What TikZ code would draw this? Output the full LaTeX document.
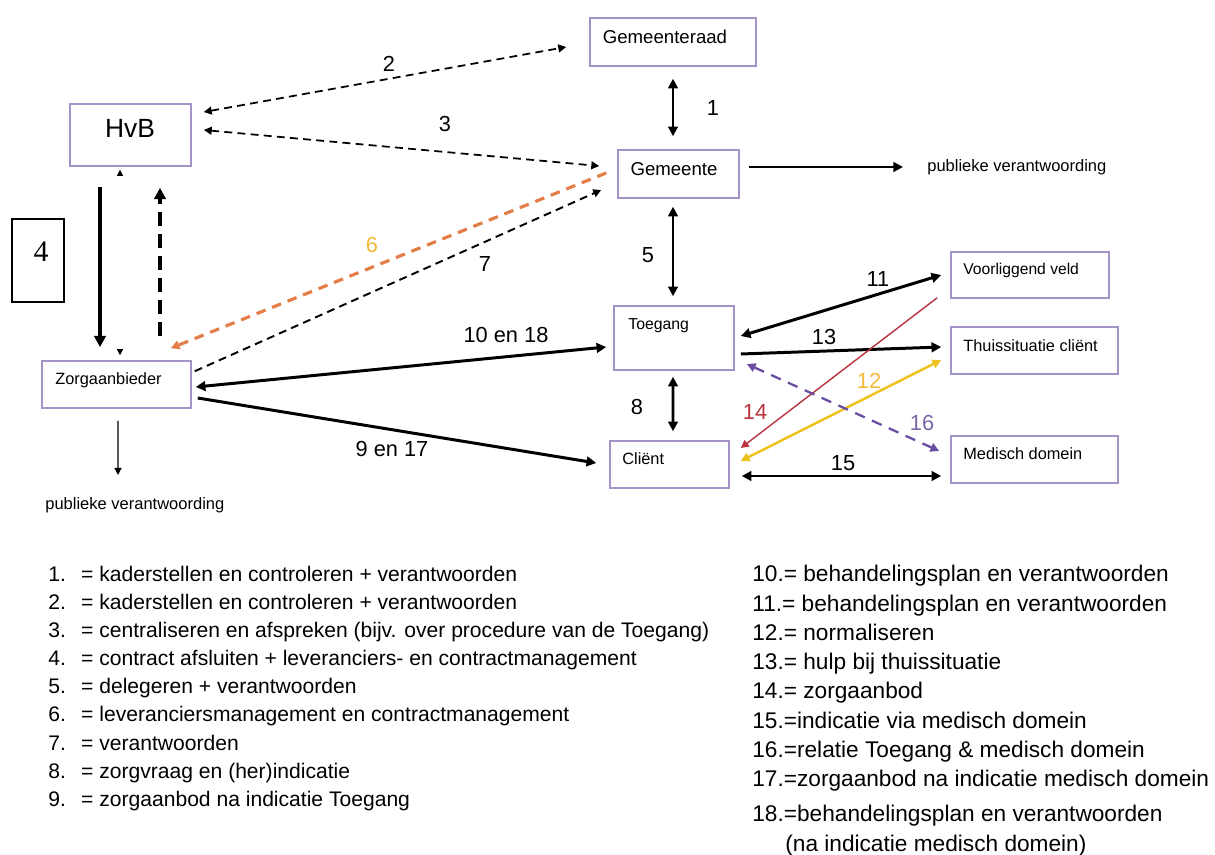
\documentclass[tikz,border=0pt]{standalone}
\usepackage{fontspec}
\newfontfamily\arialfont{Liberation Sans}
\newfontfamily\timesfont{Liberation Serif}
\usepackage{tikz}
\usetikzlibrary{positioning,arrows.meta,fit,calc}
\usepackage{xcolor}
\definecolor{boxpurple}{HTML}{A393C8}
\definecolor{lineorange}{HTML}{E47E48}
\definecolor{labelyellow}{HTML}{F4B93A}
\definecolor{linered}{HTML}{B83240}
\definecolor{lineyellow}{HTML}{EDC21C}
\definecolor{linepurple}{HTML}{6A4CA0}
\definecolor{labelpurple}{HTML}{7A66A8}

\begin{document}
\begin{tikzpicture}[x=0.02cm, y=-0.02cm,
    box/.style={draw=boxpurple, line width=0.9pt, inner sep=0pt},
    lbl/.style={font=\arialfont\fontsize{9.3}{11}\selectfont, anchor=west, inner sep=0pt},
    biglbl/.style={font=\arialfont\fontsize{10.6}{12}\selectfont, inner sep=0pt},
    numlbl/.style={font=\arialfont\fontsize{12.4}{14}\selectfont, inner sep=0pt},
    legtext/.style={font=\arialfont\fontsize{12}{14}\selectfont, anchor=base west, inner sep=0pt},
    legtextr/.style={font=\arialfont\fontsize{12.9}{15}\selectfont, anchor=base west, inner sep=0pt},
    arrow/.style={-{Triangle[length=5.5pt,width=5.5pt]}, line width=1.7pt},
    dblarrow/.style={{Triangle[length=5.5pt,width=5.5pt]}-{Triangle[length=5.5pt,width=5.5pt]}, line width=1.7pt},
    dasharrow/.style={{Triangle[length=4.5pt,width=4.5pt]}-{Triangle[length=4.5pt,width=4.5pt]}, line width=1pt, dash pattern=on 4.5pt off 3pt}
]
\useasboundingbox (0,0) rectangle (1215,855);

% Boxes
\node[box, fit={(590,18) (756,66)}] (raad) {};
\node[box, fit={(70,104) (191,166)}] (hvb) {};
\node[box, fit={(618,150) (739,198)}] (gem) {};
\node[box, fit={(42,361) (191,408)}] (zorg) {};
\node[box, fit={(614,306) (734,370)}] (toeg) {};
\node[box, fit={(610,441) (729,488)}] (client) {};
\node[box, fit={(951,252) (1109,298)}] (voorl) {};
\node[box, fit={(951,327) (1118,374)}] (thuis) {};
\node[box, fit={(951,436) (1118,483)}] (med) {};
\node[draw, line width=0.8pt, inner sep=0pt, fit={(12,219) (64,302)}] (box4) {};

% Box texts
\node[biglbl] (traad) at (665,37) {Gemeenteraad};
\node[biglbl] (tgem) at (674,169) {Gemeente};
\node[font=\arialfont\fontsize{15}{18}\selectfont, inner sep=0pt] (thvb) at (130,128) {HvB};
\node[lbl] (tzorg) at (55,380) {Zorgaanbieder};
\node[lbl, font=\arialfont\fontsize{9}{11}\selectfont] (ttoeg) at (628,326) {Toegang};
\node[lbl] (tclient) at (622,459) {Cliënt};
\node[lbl, font=\arialfont\fontsize{8.9}{11}\selectfont] (tvoorl) at (963,270) {Voorliggend veld};
\node[lbl] (tthuis) at (963,346) {Thuissituatie cliënt};
\node[lbl] (tmed) at (963,454) {Medisch domein};
\node[font=\timesfont\fontsize{17}{20}\selectfont, inner sep=0pt] (t4) at (41,252) {4};
\node[lbl, font=\arialfont\fontsize{9.4}{11}\selectfont] (pubG) at (927,167) {publieke verantwoording};
\node[lbl, font=\arialfont\fontsize{9.4}{11}\selectfont] (pubZ) at (45,505) {publieke verantwoording};

% Gemeenteraad, HvB, Gemeente
\draw[dblarrow] ($(raad.south)+(0,12)$) -- ($(gem.north)+(-5.5,-13)$);
\draw[dasharrow] ($(hvb.east)+(12,-23)$) -- ($(raad.west)+(-23,5)$);
\draw[dasharrow] ($(hvb.east)+(12,-5)$) -- ($(gem.west)+(-18,-8)$);
\draw[arrow] ($(gem.east)+(9,-7)$) -- ($(pubG.west)+(-24,0)$);
\draw[dblarrow] ($(gem.south)+(-5.5,8)$) -- ($(toeg.north)+(-1,-9)$);

% HvB - Zorgaanbieder (4)
\draw[-{Triangle[length=6.5pt,width=6.5pt]}, line width=2.3pt] ($(hvb.south)+(-30.5,20)$) -- ($(zorg.north)+(-16.5,-13)$);
\draw[-{Triangle[length=6.5pt,width=6.5pt]}, line width=2.3pt, dash pattern=on 8pt off 4.5pt] ($(zorg.north)+(43.5,-24)$) -- ($(hvb.south)+(29.5,21)$);
\draw[white, line width=0.5pt, {Triangle[black,length=3.5pt,width=3.5pt]}-{Triangle[black,length=3.5pt,width=3.5pt]}] ($(hvb.south)+(-10.5,3)$) -- ($(zorg.north)+(3.5,-5)$);

% Gemeente - Zorgaanbieder (6, 7)
\draw[lineorange, line width=1.8pt, dash pattern=on 5.5pt off 4pt, -{Triangle[length=5pt,width=5pt]}] ($(gem.west)+(-11,-1)$) -- ($(zorg.north east)+(-21,-12)$);
\draw[line width=1.1pt, dash pattern=on 4.5pt off 3pt, -{Triangle[length=4.5pt,width=4.5pt]}] ($(zorg.north east)+(3,11)$) -- ($(gem.west)+(-16,16)$);

% Zorgaanbieder - Toegang / Client
\draw[dblarrow] ($(toeg.west)+(-7,9)$) -- ($(zorg.east)+(4,2.5)$);
\draw[arrow] ($(zorg.east)+(6,13.5)$) -- ($(client.west)+(-13,-1.5)$);
\draw[-{Triangle[length=4pt,width=4pt]}, line width=0.7pt] ($(zorg.south)+(1.5,12)$) -- ($(pubZ.west)+(73,-30)$);

% Toegang, Client and the right column
\draw[dblarrow] ($(toeg.south)+(-1,6)$) -- ($(client.north)+(3.5,-9)$);
\draw[dblarrow] ($(toeg.east)+(6,-2)$) -- ($(voorl.west)+(-9,0)$);
\draw[arrow] ($(toeg.east)+(6,16)$) -- ($(thuis.west)+(-9,-3.5)$);
\draw[linered, line width=0.8pt, -{Triangle[length=4.5pt,width=4.5pt]}] ($(voorl.south west)+(-13,-1)$) -- ($(client.east)+(11,-16.5)$);
\draw[lineyellow, line width=1.4pt, {Triangle[length=5pt,width=5pt]}-{Triangle[length=5pt,width=5pt]}] ($(client.east)+(11,-3.5)$) -- ($(thuis.west)+(-9,9.5)$);
\draw[linepurple, line width=1.3pt, dash pattern=on 6pt off 4.5pt, {Triangle[length=5pt,width=5pt]}-{Triangle[length=5pt,width=5pt]}] ($(toeg.east)+(12,26)$) -- ($(med.west)+(-11,-8.5)$);
\draw[dblarrow] ($(client.east)+(12,11.5)$) -- ($(med.west)+(-9,16.5)$);

% Numbers
\node[numlbl] (l1) at (713,108) {1};
\node[numlbl] (l2) at (389,64) {2};
\node[numlbl] (l3) at (445,124) {3};
\node[numlbl] (l5) at (648,255) {5};
\node[numlbl, labelyellow] (l6) at (372,245) {6};
\node[numlbl] (l7) at (485,264) {7};
\node[numlbl] (l8) at (637,407) {8};
\node[numlbl] (l9) at (392,449) {9 en 17};
\node[numlbl] (l10) at (506,335) {10 en 18};
\node[numlbl] (l11) at (878,279) {11};
\node[numlbl, labelyellow] (l12) at (869,381) {12};
\node[numlbl] (l13) at (824,337) {13};
\node[numlbl, linered] (l14) at (755,412) {14};
\node[numlbl] (l15) at (843,463) {15};
\node[numlbl, labelpurple] (l16) at (922,423) {16};

% Legend
\node[legtext] (leg1) at (48,581) {\makebox[18.7pt][l]{1.}= kaderstellen en controleren + verantwoorden};
\node[legtext] (leg2) at (48,609) {\makebox[18.7pt][l]{2.}= kaderstellen en controleren + verantwoorden};
\node[legtext] (leg3) at (48,637) {\makebox[18.7pt][l]{3.}= centraliseren en afspreken (bijv. over procedure van de Toegang)};
\node[legtext] (leg4) at (48,665) {\makebox[18.7pt][l]{4.}= contract afsluiten + leveranciers- en contractmanagement};
\node[legtext] (leg5) at (48,693) {\makebox[18.7pt][l]{5.}= delegeren + verantwoorden};
\node[legtext] (leg6) at (48,721) {\makebox[18.7pt][l]{6.}= leveranciersmanagement en contractmanagement};
\node[legtext] (leg7) at (48,750) {\makebox[18.7pt][l]{7.}= verantwoorden};
\node[legtext] (leg8) at (48,778) {\makebox[18.7pt][l]{8.}= zorgvraag en (her)indicatie};
\node[legtext] (leg9) at (48,806) {\makebox[18.7pt][l]{9.}= zorgaanbod na indicatie Toegang};

\node[legtextr] (leg10) at (752,581) {10.= behandelingsplan en verantwoorden};
\node[legtextr] (leg11) at (752,611) {11.= behandelingsplan en verantwoorden};
\node[legtextr] (leg12) at (752,640) {12.= normaliseren};
\node[legtextr] (leg13) at (752,669) {13.= hulp bij thuissituatie};
\node[legtextr] (leg14) at (752,698) {14.= zorgaanbod};
\node[legtextr] (leg15) at (752,728) {15.=indicatie via medisch domein};
\node[legtextr] (leg16) at (752,757) {16.=relatie Toegang \& medisch domein};
\node[legtextr] (leg17) at (752,786) {17.=zorgaanbod na indicatie medisch domein};
\node[legtextr] (leg18) at (752,821) {18.=behandelingsplan en verantwoorden};
\node[legtextr] (leg18b) at (785,851) {(na indicatie medisch domein)};
\end{tikzpicture}
\end{document}
